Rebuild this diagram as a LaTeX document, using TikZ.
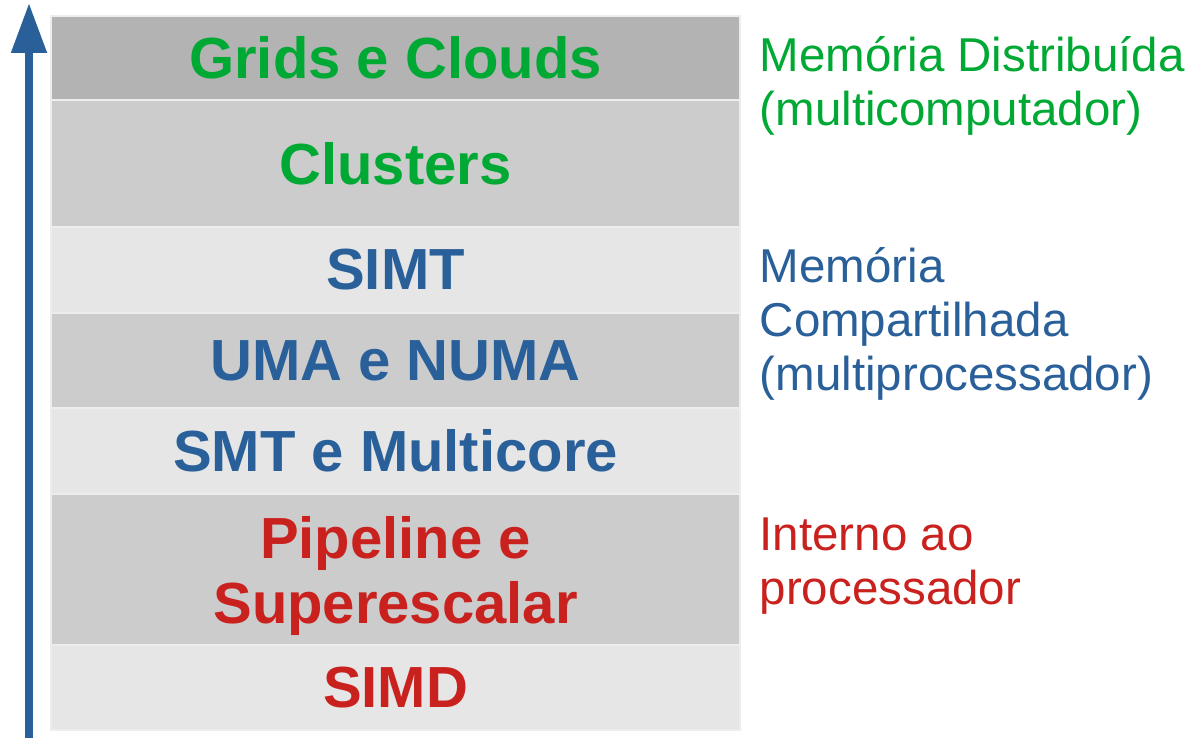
\documentclass[tikz,border=0pt]{standalone}
\usepackage{fontspec}
\setmainfont{Liberation Sans}
\usetikzlibrary{arrows.meta}

\definecolor{cgreen}{HTML}{00A933}
\definecolor{cblue}{HTML}{2A6099}
\definecolor{cred}{HTML}{C9211E}
\definecolor{gdark}{HTML}{B3B3B3}
\definecolor{gmid}{HTML}{CCCCCC}
\definecolor{glight}{HTML}{E6E6E6}

\begin{document}
\begin{tikzpicture}
  [x=1pt,y=-1pt,
   row/.style={draw=white!93!black,line width=1.5pt,minimum width=689pt,inner sep=0pt,align=center,
     font=\fontsize{58pt}{65pt}\selectfont\bfseries},
   side/.style={anchor=base west,inner sep=0pt,align=left,font=\fontsize{47.5pt}{54pt}\selectfont}]
  \useasboundingbox (0,0) rectangle (1195,738);

  \node[row,fill=gdark,minimum height=84pt,text=cgreen] (r1) at (395.5,58) {Grids e Clouds};
  \node[row,fill=gmid,minimum height=127pt,text=cgreen] (r2) at (395.5,163.5) {Clusters};
  \node[row,fill=glight,minimum height=86pt,text=cblue] (r3) at (395.5,270) {SIMT};
  \node[row,fill=gmid,minimum height=95pt,text=cblue] (r4) at (395.5,360.5) {UMA e NUMA};
  \node[row,fill=glight,minimum height=86pt,text=cblue] (r5) at (395.5,451) {SMT e Multicore};
  \node[row,fill=gmid,minimum height=151pt,text=cred,text depth=0pt] (r6) at (395.5,569.5) {Pipeline e\\Superescalar};
  \node[row,fill=glight,minimum height=85pt,text=cred] (r7) at (395.5,687.5) {SIMD};

  \node[side,text=cgreen] (s1) at (759.5,126) {Memória Distribuída\\(multicomputador)};
  \node[side,text=cblue] (s2) at (759.5,390) {Memória\\Compartilhada\\(multiprocessador)};
  \node[side,text=cred] (s3) at (759.5,604) {Interno ao\\processador};

  \coordinate (a1) at (29,738);
  \coordinate (a2) at (29,3);

  \draw[cblue,line width=8pt,-{Triangle[length=50pt,width=34pt]}] (a1) -- (a2);
\end{tikzpicture}
\end{document}
